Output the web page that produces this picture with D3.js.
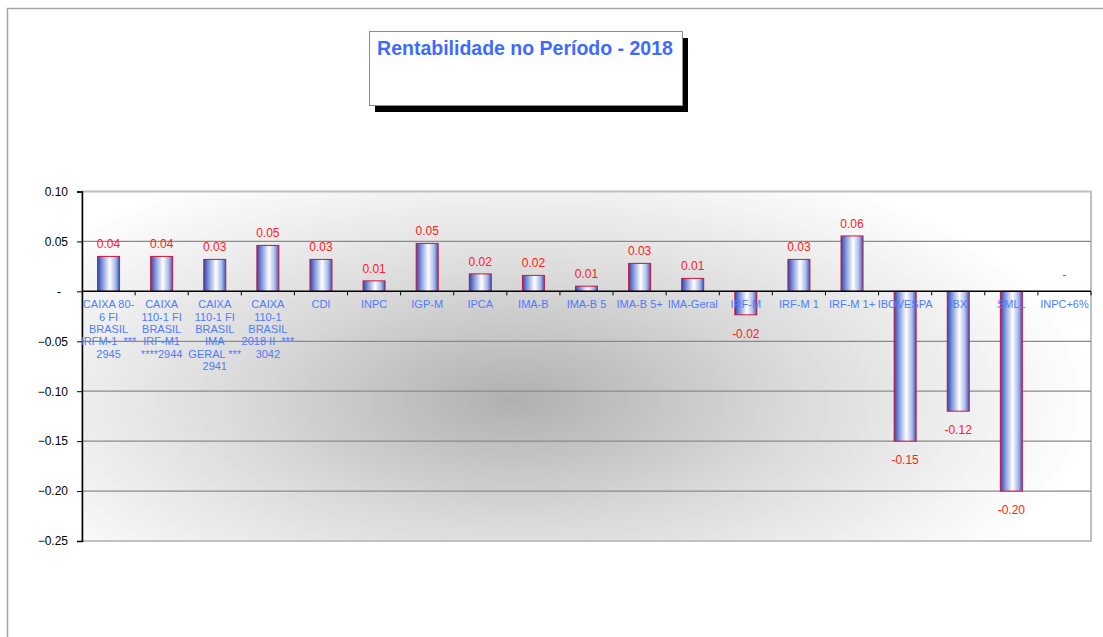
<!DOCTYPE html>
<html>
<head>
<meta charset="utf-8">
<script src="https://cdn.jsdelivr.net/npm/d3@7"></script>
<style>
  body { margin: 0; background: #fff; }
  text { font-family: "Liberation Sans", Arial, sans-serif; }
</style>
</head>
<body>
<div id="chart"></div>
<script>
// categories (each entry is the wrapped label lines)
const categories = [
  ["CAIXA 80-", "6 FI", "BRASIL", "IRFM-1  ***", "2945"],
  ["CAIXA", "110-1 FI", "BRASIL", "IRF-M1", "****2944"],
  ["CAIXA", "110-1 FI", "BRASIL", "IMA", "GERAL ***", "2941"],
  ["CAIXA", "110-1", "BRASIL", "2018 II  ***", "3042"],
  ["CDI"], ["INPC"], ["IGP-M"], ["IPCA"], ["IMA-B"], ["IMA-B 5"], ["IMA-B 5+"],
  ["IMA-Geral"], ["IRF-M"], ["IRF-M 1"], ["IRF-M 1+"], ["IBOVESPA"], ["IBX"], ["SMLL"], ["INPC+6%"]
];
const values = [0.035, 0.035, 0.032, 0.046, 0.032, 0.0105, 0.048, 0.0175, 0.016, 0.0052, 0.028,
  0.013, -0.0235, 0.032, 0.0555, -0.150, -0.120, -0.200, 0];
const valueLabels = ["0.04", "0.04", "0.03", "0.05", "0.03", "0.01", "0.05", "0.02", "0.02", "0.01", "0.03",
  "0.01", "-0.02", "0.03", "0.06", "-0.15", "-0.12", "-0.20", "-"];
const yTicks = [0.10, 0.05, 0, -0.05, -0.10, -0.15, -0.20, -0.25];
const title = "Rentabilidade no Período - 2018";

const W = 1103, H = 637;
const margin = { top: 191.5, right: 12, bottom: 96, left: 82 };

const svg = d3.select("#chart").append("svg")
  .attr("width", W).attr("height", H);

const defs = svg.append("defs");
const bg = defs.append("radialGradient").attr("id", "bg")
  .attr("gradientUnits", "userSpaceOnUse")
  .attr("cx", 515).attr("cy", 400).attr("r", 580)
  .attr("gradientTransform", "translate(515,400) scale(1,0.45) translate(-515,-400)");
bg.append("stop").attr("offset", "0%").attr("stop-color", "#b0b0b0");
bg.append("stop").attr("offset", "50%").attr("stop-color", "#dcdcdc");
bg.append("stop").attr("offset", "100%").attr("stop-color", "#ffffff");

const barGrad = defs.append("linearGradient").attr("id", "bar")
  .attr("x1", "0%").attr("x2", "100%").attr("y1", "0%").attr("y2", "0%");
barGrad.append("stop").attr("offset", "0%").attr("stop-color", "#2848b0");
barGrad.append("stop").attr("offset", "25%").attr("stop-color", "#8da0de");
barGrad.append("stop").attr("offset", "55%").attr("stop-color", "#ffffff");
barGrad.append("stop").attr("offset", "82%").attr("stop-color", "#a8b8e8");
barGrad.append("stop").attr("offset", "100%").attr("stop-color", "#3556bd");

// outer frame (cut off at right and bottom)
svg.append("path")
  .attr("d", `M7.5,${H} V8.5 H${W}`)
  .attr("fill", "none").attr("stroke", "#a6a6a6").attr("stroke-width", 1.5);

const x = d3.scaleBand()
  .domain(d3.range(categories.length))
  .range([margin.left, W - margin.right])
  .paddingInner(0).paddingOuter(0);

const y = d3.scaleLinear()
  .domain([-0.25, 0.10])
  .range([H - margin.bottom, margin.top]);

// plot background
svg.append("rect")
  .attr("x", margin.left).attr("y", y(0.10))
  .attr("width", x.range()[1] - margin.left).attr("height", y(-0.25) - y(0.10))
  .attr("fill", "url(#bg)")
  .attr("stroke", "#c0c0c0").attr("stroke-width", 2);

// gridlines
svg.append("g")
  .selectAll("line")
  .data(yTicks.filter(d => d !== 0 && d !== 0.10 && d !== -0.25))
  .join("line")
  .attr("x1", margin.left).attr("x2", x.range()[1])
  .attr("y1", d => y(d)).attr("y2", d => y(d))
  .attr("stroke", "#8a8a8a").attr("stroke-width", 1.2);

// bars
const bw = 22;
svg.append("g")
  .selectAll("rect")
  .data(values)
  .join("rect")
  .attr("x", (d, i) => x(i) + x.bandwidth() / 2 - bw / 2)
  .attr("y", d => y(Math.max(0, d)))
  .attr("width", bw)
  .attr("height", d => Math.abs(y(d) - y(0)))
  .attr("fill", "url(#bar)")
  .attr("stroke", "#d0143c").attr("stroke-width", 1);

// y axis
const yAxis = svg.append("g")
  .attr("transform", `translate(${margin.left},0)`)
  .call(d3.axisLeft(y).tickValues(yTicks).tickSize(5).tickPadding(9)
    .tickFormat(d => d === 0 ? "-" : d3.format(".2f")(d)));
yAxis.select(".domain").attr("stroke", "#000").attr("stroke-width", 1.5);
yAxis.selectAll(".tick line").attr("stroke", "#000");
yAxis.selectAll("text").attr("font-size", 12).attr("fill", "#000")
  .attr("font-family", "'Liberation Sans', Arial, sans-serif")
  .attr("dx", d => d === 0 ? -7 : 0);

// x axis at zero
const xAxis = svg.append("g")
  .attr("transform", `translate(0,${y(0)})`);
xAxis.append("line")
  .attr("x1", margin.left).attr("x2", x.range()[1])
  .attr("stroke", "#000").attr("stroke-width", 1.5);
xAxis.selectAll(".tk")
  .data(d3.range(1, categories.length + 1))
  .join("line").attr("class", "tk")
  .attr("x1", i => x.range()[0] + i * x.step()).attr("x2", i => x.range()[0] + i * x.step())
  .attr("y1", 0).attr("y2", 4)
  .attr("stroke", "#000");

// category labels
const catG = svg.append("g");
categories.forEach((lines, i) => {
  const t = catG.append("text")
    .attr("x", x(i) + x.bandwidth() / 2)
    .attr("y", y(0) + 17)
    .attr("text-anchor", "middle")
    .attr("font-size", 11)
    .attr("fill", "#4f7bff");
  lines.forEach((l, j) => {
    t.append("tspan")
      .attr("x", x(i) + x.bandwidth() / 2)
      .attr("dy", j === 0 ? 0 : 12.3)
      .attr("xml:space", "preserve")
      .text(l);
  });
});

// value labels
svg.append("g")
  .selectAll("text")
  .data(values)
  .join("text")
  .attr("x", (d, i) => x(i) + x.bandwidth() / 2)
  .attr("y", d => d > 0 ? y(d) - 8 : d === 0 ? y(d) - 12 : y(d) + 23)
  .attr("text-anchor", "middle")
  .attr("font-size", 12)
  .attr("fill", "#ff2020")
  .text((d, i) => valueLabels[i]);

// title box with shadow
svg.append("rect")
  .attr("x", 375).attr("y", 38).attr("width", 313).attr("height", 74)
  .attr("fill", "#000");
svg.append("rect")
  .attr("x", 369.5).attr("y", 31.5).attr("width", 313).attr("height", 74)
  .attr("fill", "#fff").attr("stroke", "#8c8c8c").attr("stroke-width", 1);
svg.append("text")
  .attr("x", 525).attr("y", 55)
  .attr("text-anchor", "middle")
  .attr("font-size", 19.5).attr("font-weight", "bold")
  .attr("fill", "#3d6bff")
  .text(title);
</script>
</body>
</html>
